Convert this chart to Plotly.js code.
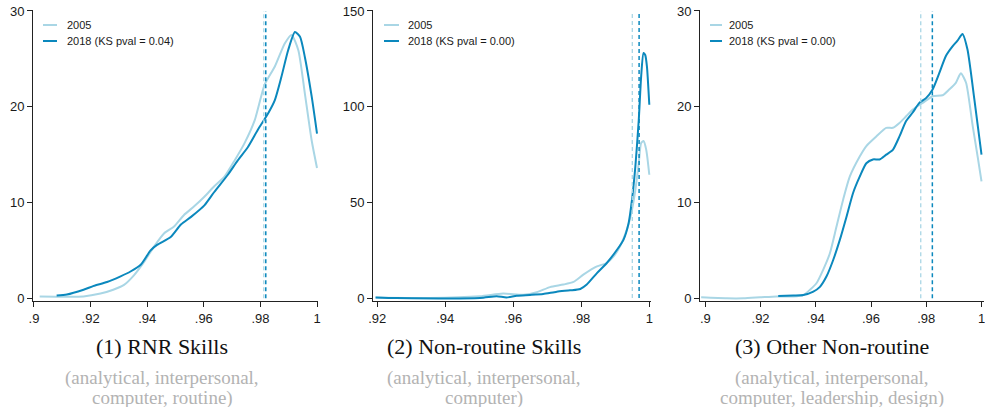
<!DOCTYPE html>
<html>
<head>
<meta charset="utf-8">
<script src="https://cdn.plot.ly/plotly-3.0.1.min.js"></script>
<style>
  html, body { margin: 0; padding: 0; background: #fff; }
  #chart { width: 985px; height: 407px; }
</style>
</head>
<body>
<div id="chart"></div>
<script>
// ---- Kernel density estimates of skill-intensity shares, 2005 vs 2018 ----

// (1) RNR Skills
const p1x2005 = [0.902, 0.9175, 0.9235, 0.928, 0.9318, 0.9353, 0.9389, 0.9424, 0.946, 0.9495, 0.953, 0.9566, 0.9602, 0.9637, 0.9673, 0.9709, 0.9744, 0.978, 0.9815, 0.9851, 0.9886, 0.991, 0.9934, 0.9957, 0.9981, 1.0];
const p1y2005 = [0.2, 0.2, 0.5, 0.9, 1.4, 2.4, 3.8, 5.4, 6.8, 7.5, 8.7, 9.6, 10.6, 11.7, 12.7, 14.4, 16.2, 18.6, 22.3, 24.2, 26.6, 27.5, 25.9, 21.4, 16.5, 13.6];
const p1x2018 = [0.908, 0.9116, 0.9175, 0.9211, 0.9258, 0.9306, 0.9341, 0.9377, 0.9412, 0.9436, 0.9483, 0.9519, 0.9555, 0.9602, 0.9637, 0.9685, 0.972, 0.9756, 0.9791, 0.9827, 0.9851, 0.9874, 0.9898, 0.9922, 0.994, 0.9957, 0.9981, 1.0];
const p1y2018 = [0.3, 0.4, 0.9, 1.3, 1.7, 2.3, 2.8, 3.5, 5.0, 5.6, 6.4, 7.7, 8.5, 9.7, 11.1, 12.9, 14.4, 15.8, 17.6, 19.3, 20.7, 23.1, 25.9, 27.8, 27.3, 25.2, 21.1, 17.2];
const p1means = [0.9812, 0.9819];

// (2) Non-routine Skills
const p2x2005 = [0.9195, 0.9354, 0.9502, 0.957, 0.963, 0.9669, 0.9708, 0.9747, 0.9777, 0.9806, 0.9846, 0.9875, 0.9895, 0.9914, 0.9934, 0.9949, 0.9959, 0.9969, 0.9976, 0.9983, 0.9991, 1.0];
const p2y2005 = [0.3, 0, 0.9, 2.3, 1.7, 3.0, 5.7, 7.0, 8.4, 12.2, 16.5, 18.3, 21.7, 27, 35.7, 46, 56.5, 70.5, 81, 82, 77.4, 64.4];
const p2x2018 = [0.9195, 0.9256, 0.9502, 0.9551, 0.958, 0.961, 0.9649, 0.9688, 0.9728, 0.9767, 0.9797, 0.9816, 0.9846, 0.9875, 0.9905, 0.9924, 0.9939, 0.9949, 0.9959, 0.9969, 0.9976, 0.9983, 0.9988, 0.9993, 1.0];
const p2y2018 = [0.3, 0, 0, 0.9, 0.3, 1.2, 1.6, 2.1, 3.3, 4.0, 4.7, 7.0, 13, 18.3, 25.2, 30.4, 39, 51.3, 68.7, 93, 115.7, 128, 127, 121, 101];
const p2means = [0.995, 0.997];

// (3) Other Non-routine
const p3x2005 = [0.8985, 0.9078, 0.9138, 0.9198, 0.9258, 0.9319, 0.9355, 0.9379, 0.9403, 0.9427, 0.9451, 0.9475, 0.9499, 0.9523, 0.9559, 0.9583, 0.9619, 0.9655, 0.9679, 0.9703, 0.9727, 0.9751, 0.9787, 0.9823, 0.9859, 0.9883, 0.9907, 0.9925, 0.9944, 0.9968, 0.9986, 1.0];
const p3y2005 = [0.1, 0, 0, 0.1, 0.2, 0.2, 0.35, 0.9, 1.6, 3.0, 4.7, 7.5, 10.3, 12.7, 14.8, 15.9, 16.9, 17.8, 17.8, 18.3, 19.0, 19.7, 20.4, 21.1, 21.2, 21.8, 22.5, 23.5, 22.5, 18.0, 14.8, 12.2];
const p3x2018 = [0.9264, 0.9319, 0.9355, 0.9391, 0.9415, 0.9439, 0.9463, 0.9487, 0.9511, 0.9535, 0.9559, 0.9583, 0.9607, 0.9631, 0.9655, 0.9679, 0.9703, 0.9727, 0.9751, 0.9775, 0.9799, 0.9823, 0.9847, 0.9871, 0.9895, 0.9913, 0.9931, 0.9949, 0.9974, 1.0];
const p3y2018 = [0.25, 0.3, 0.35, 0.7, 1.2, 2.3, 4.0, 6.1, 8.5, 11.0, 12.7, 14.1, 14.5, 14.5, 15.0, 15.5, 16.9, 18.5, 19.4, 20.4, 20.9, 21.8, 23.5, 25.3, 26.3, 26.9, 27.6, 26.0, 20.8, 15.0];
const p3means = [0.978, 0.9822];

// Tick labels
const xTicks1 = [0.90, 0.92, 0.94, 0.96, 0.98, 1.00];
const xTickText1 = ['.9', '.92', '.94', '.96', '.98', '1'];
const xTicks2 = [0.92, 0.94, 0.96, 0.98, 1.00];
const xTickText2 = ['.92', '.94', '.96', '.98', '1'];
const yTicksSmall = [0, 10, 20, 30];
const yTicksLarge = [0, 50, 100, 150];

// Legend labels, panel titles and subtitles
const seriesNames = ['2005', '2018'];
const ksLabels = ['2018 (KS pval = 0.04)', '2018 (KS pval = 0.00)', '2018 (KS pval = 0.00)'];
const panelTitles = ['(1) RNR Skills', '(2) Non-routine Skills', '(3) Other Non-routine'];
const panelSubtitles = [
  ['(analytical, interpersonal,', 'computer, routine)'],
  ['(analytical, interpersonal,', 'computer)'],
  ['(analytical, interpersonal,', 'computer, leadership, design)']
];

// ---- styling & layout geometry ----
const W = 985, H = 407;
const TOP = 10, BOTTOM = 301;               // plot area top/bottom in px
const C2005 = '#a9d6e5';
const C2018 = '#0b88bd';
const SANS = 'Liberation Sans, Arial, sans-serif';
const SERIF = 'Liberation Serif, Times New Roman, serif';

const panels = [
  { xs: [p1x2005, p1x2018], ys: [p1y2005, p1y2018], means: p1means,
    dom: [33, 318], xr: [0.89965, 1.00035], yr: [-0.28, 30.1],
    xt: xTicks1, xtt: xTickText1, yt: yTicksSmall, ymax: 30,
    leg: [43, 57, 65], center: 162 },
  { xs: [p2x2005, p2x2018], ys: [p2y2005, p2y2018], means: p2means,
    dom: [373, 651], xr: [0.91874, 1.0005], yr: [-1.57, 150.5],
    xt: xTicks2, xtt: xTickText2, yt: yTicksLarge, ymax: 150,
    leg: [384, 399, 406], center: 484 },
  { xs: [p3x2005, p3x2018], ys: [p3y2005, p3y2018], means: p3means,
    dom: [700, 984], xr: [0.89808, 1.0009], yr: [-0.28, 30.1],
    xt: xTicks1, xtt: xTickText1, yt: yTicksSmall, ymax: 30,
    leg: [710, 722, 727], center: 832 }
];

const px2paperX = p => p / W;
const px2paperY = p => (BOTTOM - p) / (BOTTOM - TOP);

const traces = [];
const shapes = [];
const annotations = [];
const layout = {
  width: W, height: H,
  margin: { l: 0, r: 0, t: TOP, b: H - BOTTOM, pad: 0 },
  paper_bgcolor: '#fff', plot_bgcolor: '#fff',
  showlegend: false,
  font: { family: SANS, color: '#1a1a1a' }
};

panels.forEach((p, i) => {
  const n = i === 0 ? '' : String(i + 1);
  const xa = 'x' + n, ya = 'y' + n;
  const colors = [C2005, C2018];

  // density curves
  [0, 1].forEach(k => {
    traces.push({
      type: 'scatter', mode: 'lines',
      x: p.xs[k], y: p.ys[k],
      xaxis: xa, yaxis: ya,
      name: seriesNames[k],
      line: { color: colors[k], width: 2, shape: 'spline', smoothing: 0.6 },
      hoverinfo: 'skip'
    });
  });

  // dashed lines at the sample means
  [0, 1].forEach(k => {
    shapes.push({
      type: 'line', xref: xa, yref: ya,
      x0: p.means[k], x1: p.means[k], y0: 0, y1: p.ymax,
      line: { color: colors[k], width: k === 0 ? 1.3 : 1.5, dash: '4px,3px' }
    });
  });

  layout['xaxis' + n] = {
    domain: [px2paperX(p.dom[0]), px2paperX(p.dom[1])],
    range: p.xr, anchor: ya,
    tickvals: p.xt, ticktext: p.xtt,
    ticks: 'outside', ticklen: 5, tickwidth: 1, tickcolor: '#222',
    showline: true, linecolor: '#222', linewidth: 1,
    showgrid: false, zeroline: false,
    ticklabeloverflow: 'allow',
    tickfont: { family: SANS, size: 13, color: '#1a1a1a' },
    fixedrange: true
  };
  layout['yaxis' + n] = {
    domain: [0, 1],
    range: p.yr, anchor: xa,
    tickvals: p.yt,
    ticks: 'outside', ticklen: 5, tickwidth: 1, tickcolor: '#222',
    showline: true, linecolor: '#222', linewidth: 1,
    showgrid: false, zeroline: false,
    tickfont: { family: SANS, size: 13, color: '#1a1a1a' },
    fixedrange: true
  };

  // legend block (line sample + label) in the top-left of each panel
  const legRows = [[seriesNames[0], 25, C2005], [ksLabels[i], 41, C2018]];
  legRows.forEach(([txt, yy, col]) => {
    shapes.push({
      type: 'line', xref: 'paper', yref: 'paper',
      x0: px2paperX(p.leg[0]), x1: px2paperX(p.leg[1]),
      y0: px2paperY(yy), y1: px2paperY(yy),
      line: { color: col, width: 2 }
    });
    annotations.push({
      xref: 'paper', yref: 'paper',
      x: px2paperX(p.leg[2]), y: px2paperY(yy),
      xanchor: 'left', yanchor: 'middle', showarrow: false,
      text: txt, font: { family: SANS, size: 11, color: '#1a1a1a' }
    });
  });

  // panel title and grey subtitle underneath
  annotations.push({
    xref: 'paper', yref: 'paper',
    x: px2paperX(p.center), y: px2paperY(347),
    xanchor: 'center', yanchor: 'middle', showarrow: false,
    text: panelTitles[i], font: { family: SERIF, size: 22, color: '#111' }
  });
  panelSubtitles[i].forEach((line, j) => {
    annotations.push({
      xref: 'paper', yref: 'paper',
      x: px2paperX(p.center), y: px2paperY(378 + j * 20),
      xanchor: 'center', yanchor: 'middle', showarrow: false,
      text: line, font: { family: SERIF, size: 19, color: '#b3b3b3' }
    });
  });
});

layout.shapes = shapes;
layout.annotations = annotations;

Plotly.newPlot('chart', traces, layout, { displayModeBar: false, staticPlot: true });
</script>
</body>
</html>
